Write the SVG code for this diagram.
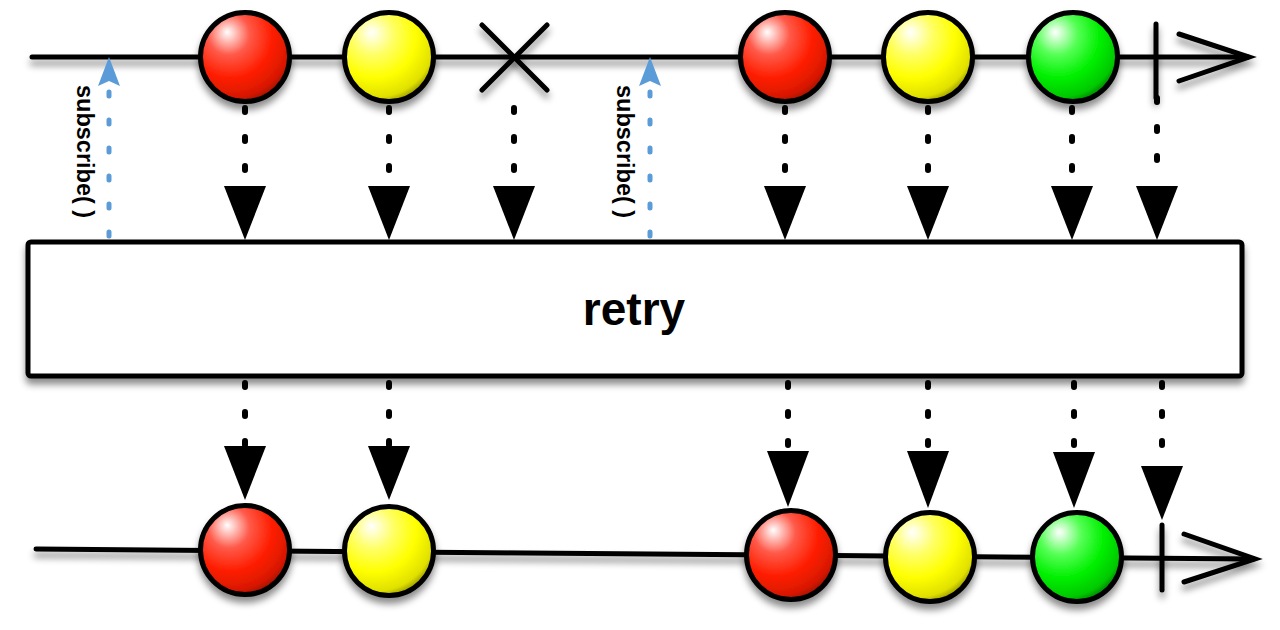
<svg xmlns="http://www.w3.org/2000/svg" width="1280" height="630" viewBox="0 0 1280 630">
  <defs>
    <filter id="sh" filterUnits="userSpaceOnUse" x="0" y="0" width="1280" height="630">
      <feDropShadow dx="0" dy="6" stdDeviation="3.5" flood-color="#000" flood-opacity="0.45"/>
    </filter>
    <radialGradient id="gRed" cx="0.36" cy="0.3" r="0.78" fx="0.3" fy="0.22">
      <stop offset="0" stop-color="#ffffff"/>
      <stop offset="0.3" stop-color="#ff5a4a"/>
      <stop offset="0.6" stop-color="#ff1e00"/>
      <stop offset="0.85" stop-color="#d81800"/>
      <stop offset="1" stop-color="#7a0a00"/>
    </radialGradient>
    <radialGradient id="gYel" cx="0.36" cy="0.3" r="0.78" fx="0.3" fy="0.22">
      <stop offset="0" stop-color="#ffffff"/>
      <stop offset="0.3" stop-color="#ffff66"/>
      <stop offset="0.6" stop-color="#ffff00"/>
      <stop offset="0.85" stop-color="#e0e000"/>
      <stop offset="1" stop-color="#707000"/>
    </radialGradient>
    <radialGradient id="gGrn" cx="0.36" cy="0.3" r="0.78" fx="0.3" fy="0.22">
      <stop offset="0" stop-color="#ffffff"/>
      <stop offset="0.3" stop-color="#55ff55"/>
      <stop offset="0.6" stop-color="#00f000"/>
      <stop offset="0.85" stop-color="#00c800"/>
      <stop offset="1" stop-color="#005a00"/>
    </radialGradient>
  </defs>
  <style>
    .tl { stroke:#000; stroke-width:5; stroke-linecap:round; fill:none; }
    .ball { stroke:#000; stroke-width:5; }
    .red { fill:url(#gRed); }
    .yel { fill:url(#gYel); }
    .grn { fill:url(#gGrn); }
    .dot { stroke:#000; stroke-width:6; stroke-linecap:round; stroke-dasharray:4 25; fill:none; }
    .head { fill:#000; }
    .sub { stroke:#5b9bd8; stroke-width:5; stroke-linecap:round; stroke-dasharray:4 24; fill:none; }
    .subhead { fill:#5b9bd8; }
    .lbl { font-family:"Liberation Sans", Arial, sans-serif; font-weight:bold; font-size:23.5px; fill:#000; }
    .op { font-family:"Liberation Sans", Arial, sans-serif; font-weight:bold; font-size:46px; fill:#000; }
  </style>

  <!-- top timeline -->
  <g id="top-timeline" filter="url(#sh)">
    <line class="tl" x1="32" y1="57" x2="1248" y2="57"/>
    <polyline class="tl" points="1179,34 1249,57 1179,81"/>
  </g>

  <!-- bottom timeline -->
  <g id="bottom-timeline" filter="url(#sh)">
    <line class="tl" x1="36" y1="549" x2="1254" y2="559"/>
    <polyline class="tl" points="1184,534 1255,559 1184,582"/>
  </g>

  <!-- connectors -->
  <g id="connectors">
    <!-- top to operator -->
    <line class="dot" x1="245" y1="108" x2="245" y2="182"/>
    <polygon class="head" points="224,186 266,186 245,240"/>
    <line class="dot" x1="389" y1="108" x2="389" y2="182"/>
    <polygon class="head" points="368,186 410,186 389,240"/>
    <line class="dot" x1="514" y1="108" x2="514" y2="182"/>
    <polygon class="head" points="493,186 535,186 514,240"/>
    <line class="dot" x1="785" y1="108" x2="785" y2="182"/>
    <polygon class="head" points="764,186 806,186 785,240"/>
    <line class="dot" x1="928" y1="108" x2="928" y2="182"/>
    <polygon class="head" points="907,186 949,186 928,240"/>
    <line class="dot" x1="1072" y1="108" x2="1072" y2="182"/>
    <polygon class="head" points="1051,186 1093,186 1072,240"/>
    <line class="dot" x1="1157" y1="98" x2="1157" y2="182"/>
    <polygon class="head" points="1136,186 1178,186 1157,240"/>

    <!-- operator to bottom -->
    <line class="dot" x1="245" y1="383" x2="245" y2="445"/>
    <polygon class="head" points="224,446 266,446 245,500"/>
    <line class="dot" x1="389" y1="383" x2="389" y2="445"/>
    <polygon class="head" points="368,446 410,446 389,500"/>
    <line class="dot" x1="788" y1="383" x2="788" y2="448"/>
    <polygon class="head" points="767,451 809,451 788,507"/>
    <line class="dot" x1="928" y1="383" x2="928" y2="448"/>
    <polygon class="head" points="907,451 949,451 928,508"/>
    <line class="dot" x1="1074" y1="383" x2="1074" y2="448"/>
    <polygon class="head" points="1053,452 1095,452 1074,508"/>
    <line class="dot" x1="1162" y1="383" x2="1162" y2="448"/>
    <polygon class="head" points="1141,466 1183,466 1162,520"/>

    <!-- subscribe arrows -->
    <line class="sub" x1="109" y1="236" x2="109" y2="90"/>
    <path class="subhead" d="M109,57 L120,86 L109,81 L98,86 Z"/>
    <line class="sub" x1="650" y1="236" x2="650" y2="90"/>
    <path class="subhead" d="M650,57 L661,86 L650,81 L639,86 Z"/>
  </g>

  <!-- subscribe labels -->
  <g id="subscribe-label-1">
    <text class="lbl" transform="translate(77,85) rotate(90)">subscribe( )</text>
  </g>
  <g id="subscribe-label-2">
    <text class="lbl" transform="translate(617,85) rotate(90)">subscribe( )</text>
  </g>

  <!-- top nodes -->
  <g id="top-red-1" filter="url(#sh)"><circle class="ball red" cx="245" cy="57" r="44.5"/></g>
  <g id="top-yellow-1" filter="url(#sh)"><circle class="ball yel" cx="389" cy="57" r="44.5"/></g>
  <g id="top-error" filter="url(#sh)">
    <line class="tl" x1="482" y1="25" x2="547" y2="90"/>
    <line class="tl" x1="547" y1="25" x2="482" y2="90"/>
  </g>
  <g id="top-red-2" filter="url(#sh)"><circle class="ball red" cx="785" cy="57" r="44.5"/></g>
  <g id="top-yellow-2" filter="url(#sh)"><circle class="ball yel" cx="928" cy="57" r="44.5"/></g>
  <g id="top-green" filter="url(#sh)"><circle class="ball grn" cx="1073" cy="57" r="44.5"/></g>
  <g id="top-complete" filter="url(#sh)">
    <line class="tl" x1="1156" y1="24" x2="1156" y2="98"/>
  </g>

  <!-- operator box -->
  <g id="operator">
    <rect x="28" y="242" width="1214" height="134" rx="3" fill="#fff" stroke="#000" stroke-width="5" filter="url(#sh)"/>
    <text class="op" x="634" y="325" text-anchor="middle">retry</text>
  </g>

  <!-- bottom nodes -->
  <g id="bottom-red-1" filter="url(#sh)"><circle class="ball red" cx="245" cy="550" r="44.5"/></g>
  <g id="bottom-yellow-1" filter="url(#sh)"><circle class="ball yel" cx="389" cy="551" r="44.5"/></g>
  <g id="bottom-red-2" filter="url(#sh)"><circle class="ball red" cx="791" cy="555" r="44.5"/></g>
  <g id="bottom-yellow-2" filter="url(#sh)"><circle class="ball yel" cx="930" cy="557" r="44.5"/></g>
  <g id="bottom-green" filter="url(#sh)"><circle class="ball grn" cx="1077" cy="557" r="44.5"/></g>
  <g id="bottom-complete" filter="url(#sh)">
    <line class="tl" x1="1162" y1="525" x2="1162" y2="590"/>
  </g>
</svg>
